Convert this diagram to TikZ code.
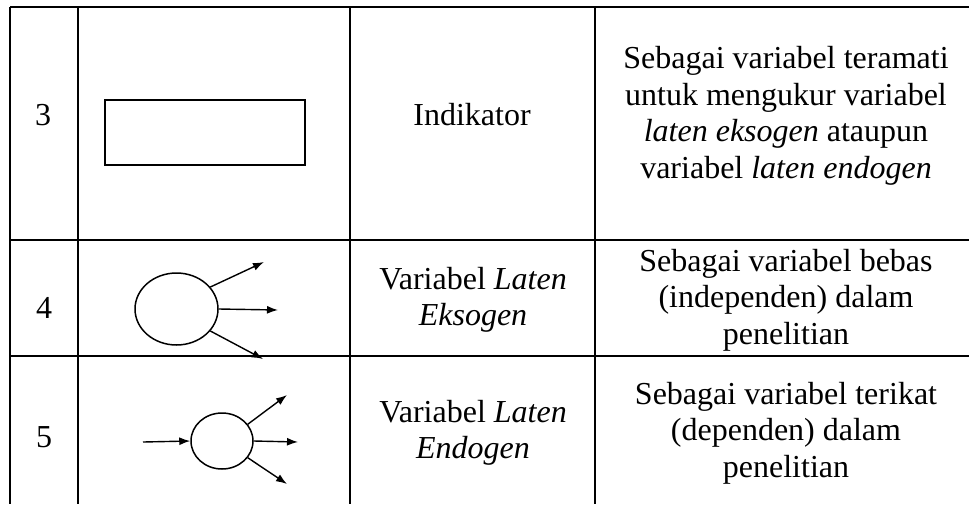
\documentclass[tikz,border=0pt]{standalone}
\usepackage{fontspec}
\setmainfont{Liberation Serif}
\usepackage{tikz}
\usetikzlibrary{shapes.geometric,arrows.meta}

\begin{document}
\begin{tikzpicture}[x=1pt,y=-1pt,
        grid/.style={line width=2.2pt},
        cell/.style={font=\fontsize{32}{36.5}\selectfont,align=center,inner sep=0pt},
        latent/.style={draw,ellipse,line width=1.5pt,inner sep=0pt},
        path/.style={line width=1.4pt,-{Latex[length=11pt,width=8pt]}}]
    \useasboundingbox (0,0) rectangle (969,504);
    \draw[grid] (10,7) -- (969,7);
    \draw[grid] (10,240) -- (969,240);
    \draw[grid] (10,356) -- (969,356);
    \foreach \x in {10,78,350,595}
        \draw[grid] (\x,7) -- (\x,504);

    \node[cell,anchor=base] (no3) at (43,125) {3};
    \draw[line width=1.6pt] (105,100) rectangle (305,165);
    \node[cell,anchor=base] (ind) at (472,125) {Indikator};
    \node[cell] (ket3) at (786,116) {Sebagai variabel teramati\\untuk mengukur variabel\\\textit{laten eksogen} ataupun\\variabel \textit{laten endogen}};

    \node[cell,anchor=base] (no4) at (44,318) {4};
    \node[latent,minimum width=83pt,minimum height=72pt] (eks) at (176.5,309) {};
    \coordinate (eks1) at (264,262);
    \coordinate (eks2) at (278,310);
    \coordinate (eks3) at (263,359);
    \draw[path] (eks.33) -- (eks1);
    \draw[path] (eks.east) -- (eks2);
    \draw[path] (eks.-33) -- (eks3);
    \node[cell] (lat4) at (473,300) {Variabel \textit{Laten}\\\textit{Eksogen}};
    \node[cell] (ket4) at (786,300) {Sebagai variabel bebas\\(independen) dalam\\penelitian};

    \node[cell,anchor=base] (no5) at (44,447) {5};
    \node[latent,minimum width=62pt,minimum height=56pt] (endo) at (222,441) {};
    \coordinate (endo0) at (143,442);
    \coordinate (endo1) at (287,395);
    \coordinate (endo2) at (298,442);
    \coordinate (endo3) at (287,484);
    \draw[path] (endo0) -- (endo.west);
    \draw[path] (endo.33) -- (endo1);
    \draw[path] (endo.east) -- (endo2);
    \draw[path] (endo.-33) -- (endo3);
    \node[cell] (lat5) at (473,433) {Variabel \textit{Laten}\\\textit{Endogen}};
    \node[cell] (ket5) at (786,433) {Sebagai variabel terikat\\(dependen) dalam\\penelitian};
\end{tikzpicture}
\end{document}
